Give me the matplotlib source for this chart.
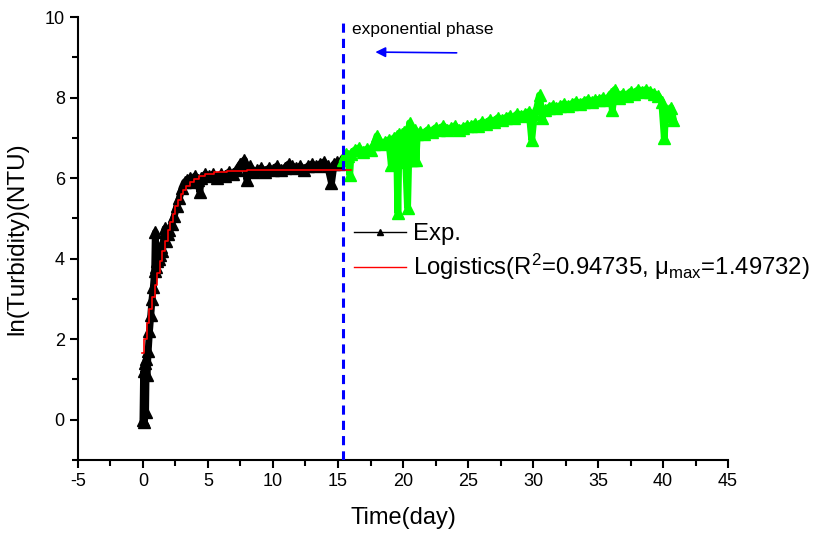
import matplotlib
matplotlib.use('Agg')
import matplotlib.pyplot as plt
from matplotlib.lines import Line2D

plt.rcParams['font.family'] = ['Liberation Sans', 'DejaVu Sans']
plt.rcParams['mathtext.fontset'] = 'custom'
plt.rcParams['mathtext.rm'] = 'Liberation Sans'
plt.rcParams['mathtext.it'] = 'Liberation Sans:italic'
plt.rcParams['axes.unicode_minus'] = False

# experimental data, first part (black)
exp_x = [0.0, 0.05, 0.1, 0.15, 0.2, 0.25, 0.3, 0.4, 0.5, 0.6, 0.7, 0.8, 0.9,
         0.95, 1.0, 1.1, 1.2, 1.3, 1.4, 1.5, 1.6, 1.7, 1.8, 1.9, 2.0, 2.2,
         2.4, 2.6, 2.8, 3.0, 3.2, 3.4, 3.6, 3.8, 4.0, 4.2, 4.37, 4.5, 4.8,
         5.1, 5.4, 5.7, 6.0, 6.3, 6.6, 6.9, 7.2, 7.5, 7.8, 8.0, 8.2, 8.5,
         8.8, 9.1, 9.4, 9.7, 10.0, 10.3, 10.6, 10.9, 11.2, 11.5, 11.8, 12.1,
         12.4, 12.7, 13.0, 13.3, 13.6, 13.9, 14.2, 14.5, 14.7, 14.9, 15.1,
         15.3]
exp_y = [0.0, 1.2, -0.05, 1.4, 0.2, 1.5, 1.1, 1.7, 2.2, 2.6, 3.0, 3.3, 3.7,
         4.65, 3.8, 3.95, 4.0, 4.1, 4.3, 4.2, 4.5, 4.75, 4.45, 4.6, 4.7, 4.85,
         5.05, 5.3, 5.5, 5.75, 5.9, 5.95, 6.0, 5.9, 6.05, 5.95, 5.66, 6.0,
         6.1, 6.05, 6.1, 6.0, 6.1, 6.05, 6.15, 6.1, 6.2, 6.35, 6.45, 5.95,
         6.3, 6.15, 6.2, 6.25, 6.15, 6.25, 6.2, 6.3, 6.2, 6.25, 6.35, 6.3,
         6.25, 6.3, 6.2, 6.3, 6.35, 6.3, 6.35, 6.4, 6.3, 5.88, 6.35, 6.4,
         6.35, 6.45]

# experimental data, second part (green)
late_x = [15.4, 15.6, 15.8, 15.9, 16.0, 16.3, 16.6, 16.9, 17.2, 17.5, 17.8,
          18.0, 18.3, 18.6, 18.9, 19.1, 19.3, 19.4, 19.5, 19.6, 19.7, 19.8,
          19.9, 20.0, 20.1, 20.2, 20.35, 20.5, 20.6, 20.7, 20.8, 20.9, 21.0,
          21.1, 21.3, 21.6, 21.9, 22.2, 22.5, 22.8,
          23.1, 23.4, 23.7, 24.0, 24.3, 24.6, 24.9, 25.2, 25.5, 25.8, 26.1,
          26.4, 26.7, 27.0, 27.3, 27.6, 27.9, 28.2, 28.5, 28.8, 29.1, 29.4,
          29.7, 29.9, 30.1, 30.3, 30.5, 30.7, 30.9, 31.2, 31.5, 31.8, 32.1,
          32.4, 32.7, 33.0, 33.3, 33.6, 33.9, 34.2, 34.5, 34.8, 35.1, 35.4,
          35.7, 36.0, 36.1, 36.3, 36.6, 36.9, 37.2, 37.5, 37.8, 38.1, 38.4,
          38.7, 39.0, 39.3, 39.6, 39.9, 40.1, 40.2, 40.4, 40.6, 40.8]
late_y = [6.45, 6.6, 6.55, 6.08, 6.6, 6.7, 6.75, 6.65, 6.72, 6.7, 6.85,
          7.05, 6.85, 6.9, 6.95, 6.33, 7.0, 6.45, 7.05, 5.13, 7.1, 6.4,
          7.1, 6.5, 7.15, 6.45, 5.26, 7.37, 6.45, 7.15, 6.45, 7.2, 6.45,
          7.1, 7.15, 7.1, 7.2, 7.15, 7.25, 7.2,
          7.3, 7.2, 7.25, 7.3, 7.2, 7.25, 7.3, 7.3, 7.35, 7.3, 7.4,
          7.35, 7.45, 7.4, 7.5, 7.45, 7.5, 7.55, 7.5, 7.6, 7.55, 7.6,
          7.65, 6.95, 7.6, 7.75, 8.06, 7.5, 7.7, 7.75, 7.8, 7.75, 7.8,
          7.85, 7.8, 7.85, 7.9, 7.85, 7.9, 7.95, 7.9, 7.95, 7.95, 8.0,
          7.95, 8.1, 7.7, 8.2, 8.0, 8.1, 8.05, 8.15, 8.1, 8.2, 8.15,
          8.2, 8.15, 8.1, 8.05, 7.9, 7.0, 7.7, 7.55, 7.75, 7.45]

# logistic fit (red)
fit_x = [-0.1, 0.1, 0.3, 0.5, 0.7, 0.9, 1.1, 1.3, 1.5, 1.7, 1.9, 2.1, 2.3,
         2.5, 2.7, 2.9, 3.1, 3.3, 3.6, 3.9, 4.3, 4.8, 5.5, 6.5, 8.0, 10.0,
         16.0]
fit_y = [1.66, 2.0, 2.4, 2.75, 3.05, 3.35, 3.65, 3.95, 4.2, 4.45, 4.7, 4.9,
         5.1, 5.3, 5.45, 5.6, 5.7, 5.8, 5.9, 5.98, 6.05, 6.1, 6.14, 6.17,
         6.19, 6.2, 6.2]

phase_start = 15.4

fig = plt.figure(figsize=(8.33, 5.37), dpi=100)
ax = fig.add_axes([0.0936, 0.1434, 0.7804, 0.8249])

ax.plot(exp_x, exp_y, color='black', lw=5, marker='^', ms=8, zorder=3)
ax.plot(late_x, late_y, color='#00ff00', lw=5, marker='^', ms=8, zorder=3)
ax.plot(fit_x, fit_y, color='red', lw=1.2, drawstyle='steps-post', zorder=4)

ax.axvline(phase_start, color='blue', lw=2.2, ls=(0, (3, 2)), zorder=5)
ax.annotate('', xy=(17.66, 9.13), xytext=(24.34, 9.11),
            arrowprops=dict(arrowstyle='-|>', color='blue', lw=1.2,
                            mutation_scale=15))
ax.text(16.05, 9.68, 'exponential phase', fontsize=12.5, va='center',
        ha='left')

ax.set_xlim(-5, 45)
ax.set_ylim(-1, 10)
ax.set_xticks(range(-5, 46, 5))
ax.set_xticks([x + 2.5 for x in range(-5, 45, 5)], minor=True)
ax.set_yticks(range(0, 11, 2))
ax.set_yticks(range(-1, 10, 2), minor=True)
ax.spines['top'].set_visible(False)
ax.spines['right'].set_visible(False)
ax.spines['left'].set_linewidth(1.5)
ax.spines['bottom'].set_linewidth(1.5)
ax.tick_params(which='major', direction='out', length=6, width=1.5,
               labelsize=13)
ax.tick_params(which='minor', direction='out', length=4, width=1.5)

ax.set_xlabel('Time(day)', fontsize=17, labelpad=12)
ax.set_ylabel('ln(Turbidity)(NTU)', fontsize=17.5, labelpad=12)

handles = [Line2D([], [], color='black', lw=1, marker='^', ms=4),
           Line2D([], [], color='red', lw=1)]
labels = ['Exp.', 'Logistics(R$^{2}$=0.94735, \u03bc$_{\\rm max}$=1.49732)']
ax.legend(handles, labels, loc='upper left', bbox_to_anchor=(0.424, 0.535),
          frameon=False, fontsize=17.2, borderpad=0, borderaxespad=0,
          handlelength=2.2, handletextpad=0.3, labelspacing=0.3)

fig.savefig('out.png', dpi=100)
